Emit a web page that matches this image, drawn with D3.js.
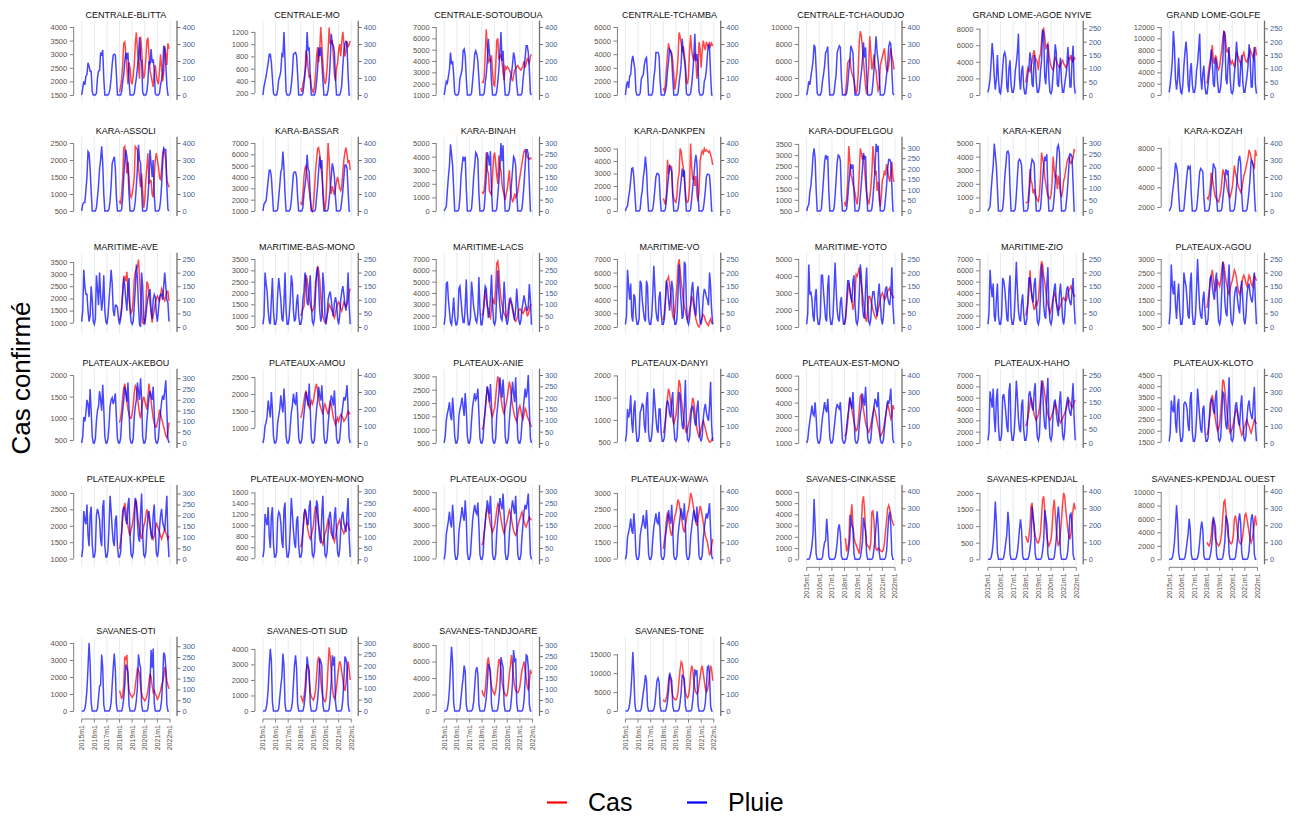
<!DOCTYPE html>
<html><head><meta charset="utf-8">
<script src="https://cdn.jsdelivr.net/npm/d3@7"></script>
<style>body{margin:0;background:#fff}svg{display:block;font-family:"Liberation Sans",Arial,sans-serif}</style>
</head><body><svg id="c" width="1298" height="818"></svg>
<script>
const districts = ["CENTRALE-BLITTA","CENTRALE-MO","CENTRALE-SOTOUBOUA","CENTRALE-TCHAMBA","CENTRALE-TCHAOUDJO","GRAND LOME-AGOE NYIVE","GRAND LOME-GOLFE","KARA-ASSOLI","KARA-BASSAR","KARA-BINAH","KARA-DANKPEN","KARA-DOUFELGOU","KARA-KERAN","KARA-KOZAH","MARITIME-AVE","MARITIME-BAS-MONO","MARITIME-LACS","MARITIME-VO","MARITIME-YOTO","MARITIME-ZIO","PLATEAUX-AGOU","PLATEAUX-AKEBOU","PLATEAUX-AMOU","PLATEAUX-ANIE","PLATEAUX-DANYI","PLATEAUX-EST-MONO","PLATEAUX-HAHO","PLATEAUX-KLOTO","PLATEAUX-KPELE","PLATEAUX-MOYEN-MONO","PLATEAUX-OGOU","PLATEAUX-WAWA","SAVANES-CINKASSE","SAVANES-KPENDJAL","SAVANES-KPENDJAL OUEST","SAVANES-OTI","SAVANES-OTI SUD","SAVANES-TANDJOARE","SAVANES-TONE"];

// Axis ranges (left = cases, right = rainfall)
const leftDomains = [[1500,4000],[170,1280],[1000,7000],[1000,6000],[2000,10000],[0,8200],[0,12000],
 [500,2500],[1000,7000],[0,5000],[0,5450],[500,3540],[0,5000],[1600,8500],
 [823,3624],[500,3500],[1000,7000],[2000,7000],[1000,5000],[1000,7000],[500,3000],
 [430,2000],[560,2560],[500,3050],[480,2010],[1000,6050],[1000,7000],[1450,4500],
 [980,3050],[380,1620],[950,5050],[980,3050],[0,6050],[0,2050],[0,10100],
 [0,4000],[0,4380],[0,8250],[0,18000]];
const leftSteps = [500,200,1000,1000,2000,2000,2000, 500,1000,1000,1000,500,1000,2000, 500,500,1000,1000,1000,1000,500, 500,500,500,500,1000,1000,500, 500,200,1000,500,1000,500,2000, 1000,1000,2000,5000];
const rightMaxes = [400,400,400,400,400,255,255, 400,400,300,400,322,300,400, 250,250,300,250,250,250,250, 315,400,300,400,400,250,400, 310,300,300,400,400,400,400, 315,300,310,400];
const rightSteps = rightMaxes.map(m => m > 330 ? 100 : 50);

const xTickYears = [2015,2016,2017,2018,2019,2020,2021,2022];
const xTickLabels = ["2015m1","2016m1","2017m1","2018m1","2019m1","2020m1","2021m1","2022m1"];

// Monthly rainfall 2015m1..2021m12 (one row of 12 per year)
const rainSeries = [
 [[0,40,80,60,110,120,190,170,140,140,20,0],[0,0,10,100,140,145,250,230,265,100,0,0],[0,0,10,40,100,180,235,240,235,120,0,0],[0,0,20,80,120,200,250,210,250,90,0,0],[0,0,10,60,100,160,220,340,210,200,20,0],[0,0,20,80,200,180,270,190,210,150,10,0],[0,0,10,60,90,130,290,270,180,60,0,0]],
 [[0,50,80,110,150,190,240,240,190,100,10,0],[0,0,30,90,110,140,240,230,370,200,20,0],[0,0,10,60,130,240,245,250,230,120,0,0],[0,0,10,60,130,180,370,260,280,100,0,0],[0,0,20,80,150,280,230,280,200,90,0,0],[0,0,30,90,200,360,300,290,250,100,0,0],[0,0,20,60,170,260,300,320,290,120,0,0]],
 [[0,40,80,70,110,150,250,180,200,120,10,0],[0,0,20,100,120,150,260,270,230,100,0,0],[0,0,10,80,150,240,260,240,200,100,0,0],[0,0,10,70,120,200,330,250,200,80,0,0],[0,0,20,80,150,250,370,200,260,100,0,0],[0,0,20,100,120,180,250,220,160,60,0,0],[0,0,10,90,150,220,290,290,250,150,10,0]],
 [[0,60,80,40,110,120,200,230,190,150,20,0],[0,0,10,90,110,120,180,210,220,130,0,0],[0,0,20,100,150,250,250,250,230,80,0,0],[0,0,20,60,140,200,270,260,220,100,0,0],[0,0,10,70,120,180,330,250,210,150,10,0],[0,0,10,60,130,220,360,200,240,180,20,0],[0,0,10,80,100,150,240,300,280,120,0,0]],
 [[0,30,80,60,110,150,200,295,280,150,10,0],[0,0,20,80,120,170,250,260,285,120,0,0],[0,0,10,70,120,250,270,290,280,100,0,0],[0,0,10,60,140,200,290,270,250,90,0,0],[0,0,10,80,130,200,310,220,280,120,0,0],[0,0,10,70,150,250,345,250,200,120,0,0],[0,0,10,60,120,180,280,310,300,150,10,0]],
 [[10,30,60,120,195,150,70,20,60,150,60,10],[5,40,100,150,160,140,30,10,100,130,40,10],[10,30,90,120,160,230,60,20,90,110,30,5],[5,40,80,100,160,130,40,30,150,130,50,10],[10,30,90,130,245,230,70,40,120,190,60,10],[5,20,80,120,190,160,40,30,100,140,50,10],[10,40,70,100,180,130,30,30,130,185,40,5]],
 [[10,40,80,130,240,180,60,20,60,140,50,10],[5,40,110,160,200,150,40,10,90,120,40,10],[10,30,90,120,170,230,70,20,80,110,30,5],[5,40,80,110,170,120,40,30,140,120,50,10],[10,30,90,130,240,220,60,40,120,180,60,10],[5,20,80,120,200,150,40,30,110,150,50,10],[10,40,70,110,190,140,30,30,130,180,40,5]],
 [[0,40,50,50,120,200,350,340,250,120,0,0],[0,0,20,80,150,250,300,380,280,100,0,0],[0,0,10,60,150,280,300,320,250,80,0,0],[0,0,10,80,200,300,360,320,260,100,0,0],[0,0,10,60,150,250,390,300,280,120,0,0],[0,0,10,80,180,360,280,200,300,100,0,0],[0,0,10,60,150,280,370,360,360,150,10,0]],
 [[0,40,50,60,120,180,240,240,200,100,0,0],[0,0,10,80,150,230,250,350,250,100,0,0],[0,0,10,60,140,220,230,230,200,80,0,0],[0,0,20,100,150,200,330,250,230,90,0,0],[0,0,10,80,150,240,320,250,300,100,0,0],[0,0,10,70,130,200,280,250,200,80,0,0],[0,0,10,60,120,200,270,270,250,120,0,0]],
 [[0,10,20,90,150,200,294,250,200,100,0,0],[0,0,10,60,150,200,240,220,240,100,0,0],[0,0,10,70,150,200,258,250,230,80,0,0],[0,0,10,80,150,260,240,200,264,90,0,0],[0,0,10,70,130,200,300,220,290,100,0,0],[0,0,10,60,120,180,240,230,200,80,0,0],[0,0,10,60,120,200,270,270,250,120,0,0]],
 [[0,20,30,80,120,180,250,253,200,100,0,0],[0,0,10,80,120,200,240,320,250,100,0,0],[0,0,10,60,130,200,220,220,210,80,0,0],[0,0,10,70,140,200,264,250,230,90,0,0],[0,0,10,60,120,180,250,200,240,90,0,0],[0,0,10,70,140,200,280,330,280,100,0,0],[0,0,10,60,120,200,216,216,210,120,0,0]],
 [[0,20,30,90,120,180,260,297,250,100,0,0],[0,0,10,80,150,230,265,250,260,100,0,0],[0,0,10,70,150,230,265,260,240,80,0,0],[0,0,10,60,130,180,222,200,220,90,0,0],[0,0,10,70,130,200,275,250,260,90,0,0],[0,0,10,60,130,200,318,280,310,120,0,0],[0,0,10,60,120,200,244,244,230,120,0,0]],
 [[0,10,20,90,150,200,297,250,200,100,0,0],[0,0,10,60,150,200,260,264,250,100,0,0],[0,0,10,70,150,220,228,220,200,80,0,0],[0,0,10,60,130,200,228,220,210,90,0,0],[0,0,10,70,140,200,240,220,250,90,0,0],[0,0,10,60,130,200,280,291,260,100,0,0],[0,0,10,60,120,200,252,250,240,120,0,0]],
 [[0,10,30,100,150,200,284,260,220,100,0,0],[0,0,10,80,150,220,267,250,260,100,0,0],[0,0,10,70,150,230,250,240,230,80,0,0],[0,0,10,60,140,200,280,260,250,90,0,0],[0,0,10,70,130,200,245,220,240,90,0,0],[0,0,10,60,140,220,300,325,280,100,0,0],[0,0,10,60,120,200,300,290,270,120,0,0]],
 [[20,60,210,150,120,120,60,20,40,150,100,20],[10,30,190,140,80,200,120,60,100,190,60,20],[10,40,100,150,210,160,60,40,80,80,70,30],[10,30,60,120,180,150,100,60,150,180,60,20],[10,20,80,140,230,180,80,10,0,200,150,30],[10,40,80,110,120,140,60,30,100,120,110,50],[20,60,110,120,120,100,150,200,150,100,90,20]],
 [[10,40,200,160,130,60,20,10,100,180,60,10],[10,30,120,180,140,100,30,20,90,200,60,10],[10,40,100,190,160,60,20,30,90,120,40,10],[10,30,100,130,200,170,90,80,140,190,80,20],[10,30,120,200,220,150,60,20,40,200,150,40],[10,40,100,120,130,100,60,40,90,110,90,30],[10,40,100,130,150,120,80,60,100,200,80,10]],
 [[10,50,190,200,120,70,20,10,60,130,50,10],[10,40,170,180,120,60,20,20,90,210,60,10],[10,40,200,150,90,60,30,20,60,220,80,10],[10,50,120,180,170,100,40,60,130,230,100,20],[10,30,150,250,150,90,40,30,80,200,120,30],[10,40,100,130,110,90,60,30,80,170,100,30],[10,30,80,110,140,110,90,70,90,190,120,10]],
 [[10,40,210,150,100,160,40,20,120,110,40,10],[10,30,170,160,100,60,30,20,170,150,30,10],[10,40,120,225,140,60,30,20,110,130,50,10],[10,30,90,170,150,100,60,110,170,140,60,10],[10,30,120,230,150,90,30,40,240,230,80,20],[10,30,80,140,165,100,60,40,120,150,90,20],[10,40,110,140,130,110,100,80,200,150,60,10]],
 [[10,50,230,120,130,100,40,20,110,140,40,10],[10,40,190,190,130,80,30,20,150,190,40,10],[10,40,130,237,140,60,30,20,90,110,50,10],[10,30,100,170,170,140,110,90,170,190,80,20],[10,30,120,230,190,80,40,30,140,219,80,20],[10,30,100,130,130,90,60,40,120,160,90,30],[10,40,110,140,150,110,90,80,120,220,80,10]],
 [[10,50,210,150,110,160,40,20,100,160,40,10],[10,40,180,170,140,90,30,20,140,190,40,10],[10,40,130,240,140,60,30,20,90,120,50,10],[10,30,100,180,180,140,110,90,160,180,80,20],[10,30,120,230,190,80,40,30,150,220,80,20],[10,30,100,140,160,90,60,40,120,160,100,30],[10,40,110,140,150,110,90,80,130,180,80,10]],
 [[10,60,230,150,120,170,80,30,110,160,60,10],[10,40,200,170,150,100,40,30,160,200,50,10],[10,40,140,250,150,70,40,30,100,130,60,10],[10,30,110,180,190,150,120,100,170,200,90,20],[10,30,130,240,200,90,50,40,160,230,90,20],[10,30,110,140,150,100,70,50,130,170,100,30],[10,40,120,150,160,120,100,90,140,200,90,10]],
 [[0,30,120,100,140,200,180,120,250,150,30,0],[0,20,100,150,170,240,200,150,270,160,30,0],[0,20,80,170,200,210,180,200,230,120,20,0],[0,20,100,150,200,260,230,190,280,160,20,0],[0,20,120,170,200,280,240,200,300,200,30,0],[0,20,100,160,210,240,220,200,260,140,20,0],[0,20,90,140,190,220,200,240,290,150,20,0]],
 [[0,30,100,120,160,250,200,150,300,200,40,0],[0,20,120,160,200,280,220,180,320,220,40,0],[0,20,100,180,220,290,240,230,300,180,30,0],[0,20,100,170,230,300,260,220,350,200,30,0],[0,20,120,200,250,330,280,250,340,220,40,0],[0,20,110,180,230,280,260,220,310,180,30,0],[0,20,100,170,220,270,250,280,340,200,30,0]],
 [[0,30,100,130,150,180,120,100,200,130,30,0],[0,20,120,150,170,200,160,120,220,150,30,0],[0,20,100,160,190,220,190,200,240,130,20,0],[0,20,100,150,200,250,220,180,260,160,20,0],[0,20,120,170,220,290,240,200,280,200,30,0],[0,20,100,160,210,270,220,180,290,150,20,0],[0,20,90,140,190,240,200,230,300,150,20,0]],
 [[10,50,200,150,180,280,120,60,200,250,80,10],[10,40,180,200,230,220,100,60,250,300,60,10],[10,40,140,320,230,150,80,60,200,200,60,10],[10,30,120,220,250,230,170,150,250,300,100,20],[10,30,150,300,280,180,100,80,200,370,120,20],[10,30,130,200,220,180,120,100,200,250,130,30],[10,40,140,200,230,180,150,130,220,360,100,10]],
 [[0,20,80,130,170,220,170,160,240,150,30,0],[0,20,90,150,190,240,200,180,260,160,30,0],[0,20,80,140,200,230,210,200,240,130,20,0],[0,20,100,150,200,270,230,200,300,160,20,0],[0,20,100,170,210,290,250,220,330,200,30,0],[0,20,100,160,210,260,240,210,300,160,20,0],[0,20,90,150,200,250,230,260,320,160,20,0]],
 [[10,40,190,160,130,200,90,40,160,200,60,10],[10,30,170,180,150,110,60,40,190,220,50,10],[10,40,120,230,170,90,50,40,140,160,50,10],[10,30,110,180,190,160,130,120,190,220,80,20],[10,30,130,230,200,110,60,50,170,240,90,20],[10,30,110,150,160,110,80,60,150,190,100,30],[10,40,120,150,170,130,110,100,160,220,90,10]],
 [[10,60,250,200,180,280,120,60,220,260,80,10],[10,40,230,240,230,200,100,70,260,300,60,10],[10,40,150,320,240,150,80,60,200,220,70,10],[10,30,130,230,260,250,190,170,270,310,110,20],[10,30,160,300,290,180,100,80,230,387,130,20],[10,30,140,220,240,180,120,100,220,280,140,30],[10,40,150,220,250,190,160,140,230,330,110,10]],
 [[10,50,220,180,160,250,110,60,200,240,70,10],[10,40,200,230,210,180,90,60,240,270,60,10],[10,40,150,290,220,140,80,60,180,200,60,10],[10,30,130,220,240,220,180,160,250,280,100,20],[10,30,150,280,260,170,100,80,210,300,120,20],[10,30,130,200,220,170,110,90,200,250,130,30],[10,40,140,200,230,170,150,130,210,290,100,10]],
 [[10,40,200,170,150,230,100,50,190,230,70,10],[10,30,180,210,200,160,80,50,220,250,60,10],[10,40,140,270,200,130,70,50,170,190,60,10],[10,30,120,200,220,200,160,150,230,260,100,20],[10,30,140,260,240,150,90,70,200,280,110,20],[10,30,120,190,210,160,110,90,190,230,120,30],[10,40,130,190,210,160,140,120,200,270,100,10]],
 [[0,30,110,140,170,210,160,140,240,170,30,0],[0,20,120,160,190,230,190,170,260,180,30,0],[0,20,100,170,210,240,210,200,250,150,20,0],[0,20,110,160,210,260,230,200,280,170,20,0],[0,20,120,180,220,270,240,220,290,200,30,0],[0,20,110,170,220,260,230,200,280,160,20,0],[0,20,100,160,210,240,220,250,290,160,20,0]],
 [[0,30,130,160,190,240,170,150,270,180,30,0],[0,20,140,180,210,260,200,180,290,190,30,0],[0,20,120,190,230,270,220,210,280,160,20,0],[0,20,130,180,230,290,240,210,320,180,20,0],[0,20,140,200,250,300,260,230,330,210,30,0],[0,20,130,190,240,290,250,220,310,170,20,0],[0,20,120,180,230,270,240,280,330,170,20,0]],
 [[0,0,0,10,40,80,150,355,200,30,0,0],[0,0,0,10,60,100,110,238,150,20,0,0],[0,0,0,10,40,100,180,205,150,20,0,0],[0,0,0,20,60,120,258,200,180,30,0,0],[0,0,0,10,50,100,246,200,170,30,0,0],[0,0,0,10,60,120,200,283,200,40,0,0],[0,0,0,10,50,150,250,280,200,30,0,0]],
 [[0,0,0,10,40,100,200,340,220,40,0,0],[0,0,0,10,50,100,150,280,200,30,0,0],[0,0,0,10,40,100,180,235,170,20,0,0],[0,0,0,20,60,120,310,250,200,30,0,0],[0,0,0,10,50,110,290,250,200,30,0,0],[0,0,0,10,60,120,240,310,220,40,0,0],[0,0,0,10,50,140,260,270,210,30,0,0]],
 [[0,0,0,10,40,100,200,317,220,40,0,0],[0,0,0,10,50,100,150,238,180,30,0,0],[0,0,0,10,40,100,180,222,170,20,0,0],[0,0,0,20,60,120,250,220,190,30,0,0],[0,0,0,10,50,110,258,230,200,30,0,0],[0,0,0,10,60,120,230,270,210,40,0,0],[0,0,0,10,50,140,240,265,210,30,0,0]],
 [[0,0,0,10,40,100,200,315,220,40,0,0],[0,0,0,10,60,115,120,262,200,30,0,0],[0,0,0,10,40,120,200,266,190,30,0,0],[0,0,0,20,60,120,215,200,180,30,0,0],[0,0,0,10,50,110,262,220,200,30,0,0],[0,0,0,10,60,130,282,200,289,40,0,0],[0,0,0,10,50,140,271,260,200,30,0,0]],
 [[0,0,0,10,40,100,200,274,220,40,0,0],[0,0,0,10,60,110,150,253,200,30,0,0],[0,0,0,10,40,120,200,246,190,30,0,0],[0,0,0,20,60,120,240,200,180,30,0,0],[0,0,0,10,50,110,233,220,200,30,0,0],[0,0,0,10,60,130,246,200,240,40,0,0],[0,0,0,10,50,140,240,230,200,30,0,0]],
 [[0,0,0,10,40,100,200,293,220,40,0,0],[0,0,0,10,60,110,150,207,180,30,0,0],[0,0,0,10,40,110,180,200,170,30,0,0],[0,0,0,20,60,120,215,200,180,30,0,0],[0,0,0,10,50,110,245,220,200,30,0,0],[0,0,0,10,60,130,278,230,240,40,0,0],[0,0,0,10,50,140,255,250,200,30,0,0]],
 [[0,0,0,10,40,100,200,347,220,40,0,0],[0,0,0,10,60,110,150,212,180,30,0,0],[0,0,0,10,40,110,180,195,170,30,0,0],[0,0,0,20,60,120,225,200,180,30,0,0],[0,0,0,10,50,110,215,200,190,30,0,0],[0,0,0,10,60,130,245,220,240,40,0,0],[0,0,0,10,50,140,260,265,210,30,0,0]]
];

// Monthly confirmed cases 2018m1..2021m12 (one row of 12 per year)
const caseSeries = [
 [[1600,1800,2100,2600,3400,3450,3000,2500,1900,2700,2500,2000],[1900,2200,2600,3400,3800,3200,2600,2100,3650,3200,2500,2100],[2300,2800,3500,3600,3000,2400,2200,2000,1800,2300,2600,2200],[2000,1900,2400,3000,2500,2000,2300,3300,3000,2600,3400,3200]],
 [[280,220,350,420,550,900,800,600,450,500,300,250],[200,300,500,800,950,700,900,1280,1000,700,450,350],[400,600,900,1270,1000,1050,1050,800,500,400,600,700],[900,1000,800,1050,1200,1000,800,900,1050,950,1000,1050]],
 [[2200,2100,2500,4500,6800,5200,3900,4100,4000,4500,3000,1900],[1800,3500,5800,6000,4200,4300,4600,3900,3000,2300,3500,3300],[3500,3400,3200,3000,2500,2200,2700,3200,3300,3500,3600,3400],[3300,3200,3400,3600,4000,3400,3800,4200,4000,3800,4400,4600]],
 [[1500,1300,1800,3000,4000,4800,4300,4200,4100,3500,2500,1400],[2000,2600,3700,5600,5300,4800,4200,4600,4000,3300,2000,1800],[2400,4300,5400,4300,3800,3500,4100,3500,2200,3000,4900,4400],[3000,4200,5000,4600,4300,4900,4700,4500,4900,4600,4800,4600]],
 [[2000,2200,3800,5800,6000,6200,5200,4500,4200,3800,3000,2100],[2600,4500,8300,9500,9000,7600,6000,4500,3000,2100,3500,5500],[8900,7000,5000,5500,6800,5300,4800,3500,2500,2800,5500,6000],[6500,7000,7500,6000,5000,4800,5500,6500,7500,6500,6000,5000]],
 [[1500,2500,3300,3000,2800,3500,4000,5000,5400,4500,4200,4000],[3000,4500,5000,6500,7800,8000,7000,5500,6000,6200,5000,4000],[3500,3200,3000,4000,4500,4200,3800,3500,3300,3600,4000,4200],[3800,3600,3300,3500,3800,4500,4300,4800,4200,4000,4500,4300]],
 [[2000,3500,5000,6000,7000,8800,6000,5500,7000,6500,5000,4500],[5000,6500,8000,10000,11200,11000,9000,7500,8000,7000,6000,5500],[6000,5500,5000,6000,7500,7000,6500,6000,5500,6000,7000,7500],[6500,6000,5800,6500,7000,8000,7500,7000,6500,7500,8500,7000]],
 [[800,700,1000,1500,2350,2400,2000,1600,1950,1500,1000,900],[1000,1200,1500,2400,2350,2300,1800,1500,1200,1600,1100,600],[800,1400,1800,2200,1300,1400,1400,1000,900,1500,2000,2200],[2000,1800,1500,1400,1700,2200,2300,2200,2000,1400,1300,1200]],
 [[1800,1500,2500,4000,4800,5000,4200,3500,2800,2000,1200,1000],[1500,2800,4500,5500,6500,6600,6000,5000,4200,3000,1800,1000],[2000,4500,7000,5500,3500,2500,3200,2800,2400,3000,3600,4000],[3500,3000,2800,3200,4500,5500,6200,6600,6000,5200,5500,4600]],
 [[1400,1300,1500,2500,4300,3000,2800,1500,1300,1200,2500,4000],[4300,3500,2600,2000,4100,3200,3000,2000,1500,1200,800,1300],[1600,2300,3000,1500,1000,700,800,1300,1000,1200,1400,2000],[2500,3000,3500,4000,4400,4500,4200,4000,3900,3800,3900,3800]],
 [[1000,800,500,1500,4100,3000,3600,3600,3500,1500,1000,800],[700,1200,2500,3000,5000,4800,4000,3500,2500,1500,800,700],[900,2000,5400,3500,2500,2800,2000,2800,1300,800,1500,4000],[4500,4800,4600,5000,4800,4900,4800,4700,4800,4500,4200,3700]],
 [[900,700,1100,1800,3400,2800,2100,2000,1700,1500,1300,1000],[800,1200,2200,3300,3100,2800,3000,2400,1800,1300,1000,800],[1100,1500,2200,3400,2800,2100,2300,1400,1800,1000,700,1200],[1900,2000,2300,2100,2600,2300,2000,1800,2200,2700,2000,1800]],
 [[600,600,700,1500,3100,2200,2000,1300,1600,1200,1000,800],[700,1200,2500,4300,3800,3500,2500,2000,1500,1100,1000,900],[1200,2000,4000,3000,2500,2600,1600,2600,2000,1300,1000,1500],[2200,2500,3000,3500,3800,4000,3600,3500,3700,3900,4500,4400]],
 [[3000,2800,3200,4000,5500,5000,4200,3500,3000,2800,2600,2500],[3000,3500,4500,5800,5500,5000,4800,4000,3500,3200,3000,3500],[4000,5000,6200,5500,5000,4500,4000,3800,3500,3800,4500,5200],[5500,6000,6500,7000,7800,7500,7000,6500,6200,6000,7800,7200]],
 [[1100,1300,1700,2300,2900,2900,2700,3100,2400,2000,1600,1400],[1500,1900,2800,3100,3200,3300,3600,2900,2200,1400,1000,950],[1100,1600,2700,2600,2200,1800,1500,1000,1300,1500,1800,2000],[2100,2000,1900,2100,2400,2300,2000,1900,2100,2300,2300,1900]],
 [[1000,1100,1300,1400,2000,2800,2600,2200,1800,1500,1300,1200],[1300,1500,2500,2700,3200,3000,2600,1800,1300,1000,800,700],[800,1000,1200,1500,1400,1300,1200,1000,900,1100,1400,1500],[1600,1500,1300,1200,1400,1600,1500,1400,1500,1700,2000,2200]],
 [[2000,2200,3000,4300,3500,2800,2600,2000,1800,2500,3600,3200],[3000,4500,6600,6800,6000,4500,3500,3000,2500,2200,2000,1800],[2000,2600,3400,3200,3000,2500,2000,1600,1500,1700,2000,2500],[2600,2500,2300,2200,2400,2700,2500,2000,2100,2500,2900,3000]],
 [[2500,3000,4000,5400,5500,5700,5200,4500,3500,2800,2600,3000],[4000,5000,6500,7000,6300,5300,4800,4000,3500,3200,2800,2500],[2800,3200,3600,4300,4000,3500,3000,2600,2300,2100,2000,2200],[2500,2700,2900,2800,2500,2300,2200,2100,2400,2600,2300,2200]],
 [[1200,1600,2200,3000,3600,3200,2800,2500,2000,2400,3000,4100],[4000,4200,4500,3800,3500,3000,2500,2000,1500,1300,2000,2800],[2800,2600,2300,2000,1800,1600,1500,1700,2000,2300,2600,2900],[3000,2800,2600,2700,2900,3100,3200,3300,3000,2900,2800,2700]],
 [[2000,2500,3000,4200,6000,4500,3500,3000,2500,2800,3200,3000],[3500,4500,6000,6800,6500,5500,5000,4200,3500,3000,2600,2200],[2500,3000,3500,4000,3800,3200,2800,2500,2600,2900,3200,3500],[3600,3400,3300,3500,3900,4200,4400,4600,4300,4000,3800,3700]],
 [[1200,1500,1800,2200,2400,2600,2300,2000,1800,2000,2200,2100],[2000,2200,2600,2900,2800,2500,2200,2000,1800,1700,1900,2100],[2200,2400,2600,2500,2300,2000,1800,1700,1900,2100,2300,2400],[2300,2100,2000,2200,2400,2300,2100,2000,2200,2400,2300,2200]],
 [[900,1000,1200,1500,1700,1800,1600,1400,1200,1100,1000,1000],[1100,1300,1600,1750,1700,1500,1300,1100,1000,1200,1400,1500],[1400,1300,1200,1500,1800,1600,1400,1200,1000,900,800,800],[900,1000,1200,1100,1000,900,800,700,600,550,700,900]],
 [[1300,1400,1600,1800,2000,2100,1900,1700,1600,1700,1800,1700],[1800,2000,2200,2300,2100,1900,1700,1600,1500,1400,1600,1700],[1600,1500,1400,1600,1800,1700,1500,1300,1200,1100,1200,1300],[1200,1300,1400,1350,1300,1200,1250,1300,1400,1500,1450,1400]],
 [[1000,1100,1300,1700,2200,2600,2400,2000,1800,1600,1500,1700],[1800,2200,2700,3000,2800,2500,2200,1900,1700,1600,1800,2000],[2200,2500,2800,2600,2200,1900,1700,1500,1400,1300,1500,1800],[1900,1700,1500,1400,1600,1800,1700,1500,1400,1300,1200,1100]],
 [[700,800,1000,1200,1500,1700,1600,1400,1200,1000,900,1000],[1100,1300,1600,1900,1800,1500,1300,1100,900,800,700,800],[900,1000,1200,1300,1500,1400,1200,1000,800,700,600,700],[800,900,1000,900,800,700,600,550,500,500,550,600]],
 [[1500,1600,1800,2500,3500,4300,4000,3500,3000,2600,2200,1900],[2000,2500,3500,4500,4600,4000,3500,3000,2500,2200,2000,1800],[2000,2300,2800,3200,3600,3400,3000,2600,2200,1800,1500,1600],[1800,2000,2500,3000,3500,4000,3600,3200,2800,3000,3800,3500]],
 [[2500,2800,3200,3800,4500,5000,4600,4000,3500,3200,3000,3300],[3500,4000,5000,6000,6500,6000,5300,4600,4000,3500,3200,3000],[3200,3500,3800,4200,4500,4200,3800,3400,3000,2800,3000,3200],[3400,3600,3900,4200,4500,4800,4600,4300,4100,4300,4600,4800]],
 [[1800,2000,2400,2800,3300,3600,3300,2900,2500,2200,2000,2100],[2300,2800,3500,4300,4200,3800,3300,2800,2400,2100,1900,2000],[2100,2300,2600,2800,3000,2800,2500,2200,2000,1800,1900,2100],[2200,2400,2500,2300,2200,2000,1900,2100,2300,2500,2400,2300]],
 [[1300,1500,1800,2200,2500,2700,2500,2200,2000,1800,1700,1900],[2000,2200,2500,2800,2700,2400,2100,1900,1700,1600,1800,2000],[2100,2300,2500,2400,2200,2000,1800,1700,1600,1700,1900,2100],[2000,1900,1800,1700,1600,1700,1800,1900,1800,1700,1600,1700]],
 [[600,700,900,1100,1300,1200,1000,900,800,750,800,900],[1000,1200,1350,1300,1150,1000,900,800,700,650,750,850],[900,1000,1100,1050,950,850,800,750,700,800,900,1000],[1050,1100,1000,950,900,850,900,1000,1050,1000,950,900]],
 [[1800,2000,2500,3200,3800,4000,3800,3400,3000,2800,2600,2800],[3000,3400,3900,4300,4200,3800,3400,3000,2700,2500,2800,3100],[3300,3600,3900,3700,3400,3000,2700,2500,2400,2600,2900,3200],[3400,3600,3800,3500,3200,3000,2900,3100,3300,3500,3400,3300]],
 [[1300,1500,1800,2200,2400,2200,2000,1800,1700,1900,2100,2300],[2400,2600,2800,2700,2500,2300,2100,1900,1800,2000,2200,2400],[2500,2700,3000,2900,2700,2500,2300,2100,2000,2200,2400,2600],[2500,2300,2100,1900,1700,1600,1500,1300,1100,1200,1400,1600]],
 [[1800,1800,700,1000,1500,3900,3900,4900,3000,2000,1500,1300],[1000,800,500,1500,3000,5100,5600,4500,2500,1400,1200,1100],[900,1500,4200,4300,3500,1500,900,800,1000,900,800,700],[700,900,1500,2500,3500,4500,4800,4500,4000,3500,3200,3000]],
 [[700,600,500,700,1000,1600,1700,1200,900,700,600,500],[500,600,800,1300,1800,1900,1500,1000,700,500,400,500],[600,900,1500,1800,1400,900,600,400,500,800,1200,1700],[2000,1900,1500,1200,900,700,600,800,1200,1500,1700,1500]],
 [[2500,2200,2000,2500,3500,5500,6000,4500,3000,2500,2300,2000],[2200,2800,4000,6500,8500,8800,7000,5000,3500,2800,2500,2300],[2500,3500,6000,6500,5500,4000,3000,2500,2300,2600,3500,5000],[6500,6800,6000,5000,4000,3000,2500,3000,4000,5500,6500,5000]],
 [[1200,1000,700,900,1500,3200,3000,3300,2000,1200,1000,900],[800,900,1000,1500,2000,2500,2400,2200,1500,1000,800,700],[600,700,900,1200,1700,2200,2000,1500,1100,1200,1000,900],[700,800,1000,1200,1500,1700,2000,2600,2300,1800,1500,1300]],
 [[1000,800,600,900,1500,2500,3000,2800,2000,1200,900,800],[700,900,1300,2200,3200,3500,3000,2000,1300,900,700,600],[800,1500,3000,4100,3500,2500,1500,1000,800,1000,1500,2200],[2800,3200,3000,2500,2000,1500,1300,1800,2500,3200,2700,2000]],
 [[2500,2000,1800,2500,4000,5800,6500,5500,4000,3000,2500,2200],[2000,2500,3500,5000,6300,6000,5000,3500,2800,2300,2000,1800],[2000,3000,4500,5500,6800,5500,4000,3000,2500,2300,2200,2500],[3000,4000,5000,5500,6000,5000,4000,3000,2500,3500,5000,4500]],
 [[3000,2500,2500,3500,5000,8000,9500,8500,6000,4000,3500,3000],[3000,3500,5000,8000,11000,13000,12500,10000,7000,5000,4000,3500],[4000,6000,10000,12000,11000,8000,6000,5000,4500,5000,7000,9000],[11000,12000,10000,8000,6000,5000,5500,7000,9500,12000,11000,8000]]
];

const FONT = '"Liberation Sans", Arial, sans-serif';
const svg = d3.select("#c");
svg.append("rect").attr("width",1298).attr("height",818).attr("fill","#fff");
const rowTops = [14,130,246,362,478.3,630];
const fmt = d3.format("d");

districts.forEach((name, i) => {
  const r = Math.floor(i/7), c = i % 7, T = rowTops[r];
  const x0 = 81.7 + 181.25*c, x1 = x0 + 88.3;
  const x = d3.scaleLinear().domain([2015,2022]).range([x0,x1]);
  const yL = d3.scaleLinear().domain(leftDomains[i]).range([T+81, T+13]);
  const yR = d3.scaleLinear().domain([0, rightMaxes[i]]).range([T+81, T+13]);
  const g = svg.append("g");

  g.selectAll("line.grid").data(xTickYears).join("line").attr("class","grid")
    .attr("x1",d=>x(d)).attr("x2",d=>x(d)).attr("y1",T+7).attr("y2",T+87)
    .attr("stroke","#e2ecf0").attr("stroke-width",1);

  g.append("text").attr("x",(x0+x1)/2).attr("y",T+3.5).attr("text-anchor","middle")
    .attr("font-size",9).attr("font-family",FONT).attr("fill","#111").text(name);

  // left axis (cases)
  const [lo, hi] = leftDomains[i], st = leftSteps[i];
  const lt = d3.range(Math.ceil(lo/st)*st, hi + 1e-6, st);
  const la = g.append("g").attr("transform",`translate(${x0-8},0)`)
    .call(d3.axisLeft(yL).tickValues(lt).tickFormat(fmt).tickSize(4).tickPadding(2.5).tickSizeOuter(0));
  la.attr("font-size",7.5).attr("font-family",FONT);
  la.select(".domain").remove();
  la.append("line").attr("y1",yL(lt[0])).attr("y2",yL(lt[lt.length-1])).attr("stroke","#808080");
  la.selectAll(".tick line").attr("stroke","#808080");
  la.selectAll(".tick text").attr("fill","#5a5048");

  // right axis (rain)
  const rt = d3.range(0, rightMaxes[i] + 1e-6, rightSteps[i]);
  const ra = g.append("g").attr("transform",`translate(${x1+7},0)`)
    .call(d3.axisRight(yR).tickValues(rt).tickFormat(fmt).tickSize(3.5).tickPadding(2).tickSizeOuter(0));
  ra.attr("font-size",7.5).attr("font-family",FONT);
  ra.select(".domain").remove();
  ra.append("line").attr("y1",T+6.7).attr("y2",T+86).attr("stroke","#707070").attr("stroke-width",1.3);
  ra.selectAll(".tick line").attr("stroke","#707070");
  ra.selectAll(".tick text").attr("fill","#3f6290");

  // lines
  const cases = caseSeries[i].flat();
  const rain = rainSeries[i].flat();
  g.append("path").datum(cases)
    .attr("d", d3.line().x((d,k)=>x(2018 + k/12)).y(d=>yL(d)))
    .attr("fill","none").attr("stroke","#ff0000").attr("stroke-opacity",0.72).attr("stroke-width",1.5);
  g.append("path").datum(rain)
    .attr("d", d3.line().x((d,k)=>x(2015 + k/12)).y(d=>yR(d)))
    .attr("fill","none").attr("stroke","#0000ff").attr("stroke-opacity",0.72).attr("stroke-width",1.5);

  // x axis only for panels with nothing below
  if (i + 7 >= districts.length) {
    const xa = g.append("g");
    xa.append("line").attr("x1",x0).attr("x2",x1).attr("y1",T+89).attr("y2",T+89).attr("stroke","#808080");
    xa.selectAll("line.t").data(xTickYears).join("line").attr("class","t")
      .attr("x1",d=>x(d)).attr("x2",d=>x(d)).attr("y1",T+89).attr("y2",T+92.5).attr("stroke","#808080");
    xa.selectAll("text").data(xTickLabels).join("text")
      .attr("transform",(d,k)=>`translate(${x(xTickYears[k])},${T+95}) rotate(-90)`)
      .attr("text-anchor","end").attr("dy","0.35em")
      .attr("font-size",7).attr("font-family",FONT).attr("fill","#5a5048").text(d=>d);
  }
});

// y label
svg.append("text").attr("transform","translate(30,378) rotate(-90)").attr("text-anchor","middle")
  .attr("font-size",26).attr("font-family",FONT).attr("fill","#000").text("Cas confirmé");

// legend
const legend = [{label:"Cas", color:"#ff0000", x:547},{label:"Pluie", color:"#0000ff", x:687}];
legend.forEach(l => {
  svg.append("line").attr("x1",l.x).attr("x2",l.x+20).attr("y1",802.5).attr("y2",802.5)
    .attr("stroke",l.color).attr("stroke-width",2.2);
  svg.append("text").attr("x",l.x+41).attr("y",811).attr("font-size",25).attr("font-family",FONT)
    .attr("fill","#000").text(l.label);
});
</script></body></html>
